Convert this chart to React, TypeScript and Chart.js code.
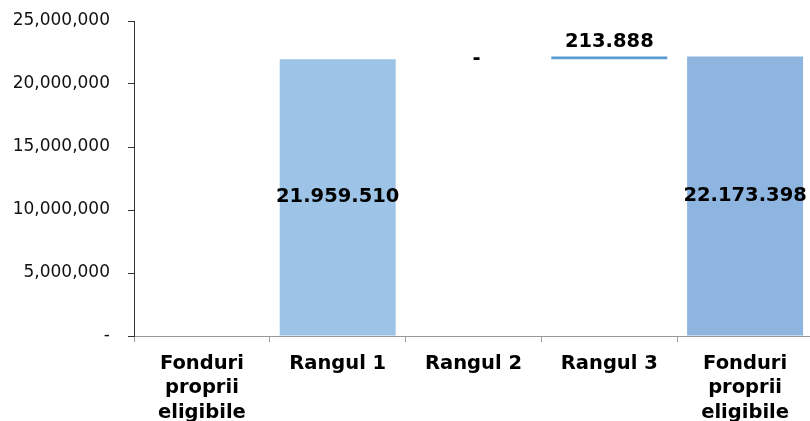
import React, { useEffect, useRef } from "react";
import { Chart, registerables } from "chart.js";

Chart.register(...registerables);

const categories: string[][] = [
  ["Fonduri", "proprii", "eligibile"],
  ["Rangul 1"],
  ["Rangul 2"],
  ["Rangul 3"],
  ["Fonduri", "proprii", "eligibile"],
];
const startTotal = 0;
const stepValues = [21959510, 0, 213888];
const endTotal = 22173398;
const valueLabels: (string | null)[] = [null, "21.959.510", "-", "213.888", "22.173.398"];
const labelModes = ["none", "center", "at", "above", "center"];
const barColors = ["#9DC3E6", "#9DC3E6", "#9DC3E6", "#5B9BD5", "#8EB4E0"];
const yMax = 25000000;
const yStep = 5000000;

const FONT = "'DejaVu Sans', Verdana, sans-serif";

function buildData(): [number, number][] {
  const out: [number, number][] = [[0, startTotal]];
  let run = startTotal;
  for (const v of stepValues) {
    out.push([run, run + v]);
    run += v;
  }
  out.push([0, endTotal]);
  return out;
}

const labelPlugin = {
  id: "valueLabels",
  afterDatasetsDraw(chart: any) {
    const ctx = chart.ctx;
    const meta = chart.getDatasetMeta(0);
    ctx.save();
    ctx.font = `bold 19.5px ${FONT}`;
    ctx.fillStyle = "#000";
    ctx.textAlign = "center";
    ctx.textBaseline = "middle";
    meta.data.forEach((el: any, i: number) => {
      const txt = valueLabels[i];
      const mode = labelModes[i];
      if (!txt || mode === "none") return;
      const top = Math.min(el.y, el.base);
      const bottom = Math.max(el.y, el.base);
      let y = top;
      if (mode === "center") y = (top + bottom) / 2;
      else if (mode === "above") y = top - 15;
      else y = top;
      ctx.fillText(txt, el.x + (mode === "at" ? 3 : 0), y);
    });
    ctx.restore();
  },
};

export default function App() {
  const ref = useRef<HTMLCanvasElement | null>(null);
  useEffect(() => {
    if (!ref.current) return;
    const chart = new Chart(ref.current, {
      type: "bar",
      data: {
        labels: categories,
        datasets: [
          {
            data: buildData() as any,
            backgroundColor: barColors,
            borderWidth: 0,
            barPercentage: 1,
            categoryPercentage: 0.854,
          },
        ],
      },
      options: {
        responsive: false,
        animation: false,
        devicePixelRatio: 1,
        layout: { padding: { top: 21, right: 17, bottom: 0, left: 0 } },
        plugins: { legend: { display: false }, tooltip: { enabled: false } },
        scales: {
          x: {
            afterFit: (s: any) => {
              s.height = 85;
            },
            grid: {
              display: true,
              drawOnChartArea: false,
              drawTicks: true,
              tickLength: 6,
              tickColor: "#9a9a9a",
              offset: true,
            },
            border: { display: true, color: "#9a9a9a", width: 1 },
            ticks: {
              color: "#000",
              padding: 10,
              maxRotation: 0,
              autoSkip: false,
              font: { family: FONT, size: 19.5, weight: "bold", lineHeight: 1.24 },
            },
          },
          y: {
            min: 0,
            max: yMax,
            afterFit: (s: any) => {
              s.width = 134;
              s.paddingTop = 0;
              s.paddingBottom = 0;
            },
            grid: {
              display: true,
              drawOnChartArea: false,
              drawTicks: true,
              tickLength: 6,
              tickColor: "#333",
            },
            border: { display: true, color: "#333", width: 1 },
            ticks: {
              stepSize: yStep,
              color: "#111",
              padding: 18,
              font: { family: FONT, size: 17 },
              callback: (v: any) => (Number(v) === 0 ? "-" : Number(v).toLocaleString("en-US")),
            },
          },
        },
      },
      plugins: [labelPlugin],
    });
    return () => chart.destroy();
  }, []);
  return (
    <div
      style={{
        position: "fixed",
        left: 0,
        top: 0,
        width: 810,
        height: 421,
        overflow: "hidden",
        background: "#fff",
      }}
    >
      <canvas ref={ref} width={830} height={421} style={{ width: 830, height: 421, display: "block" }} />
    </div>
  );
}
